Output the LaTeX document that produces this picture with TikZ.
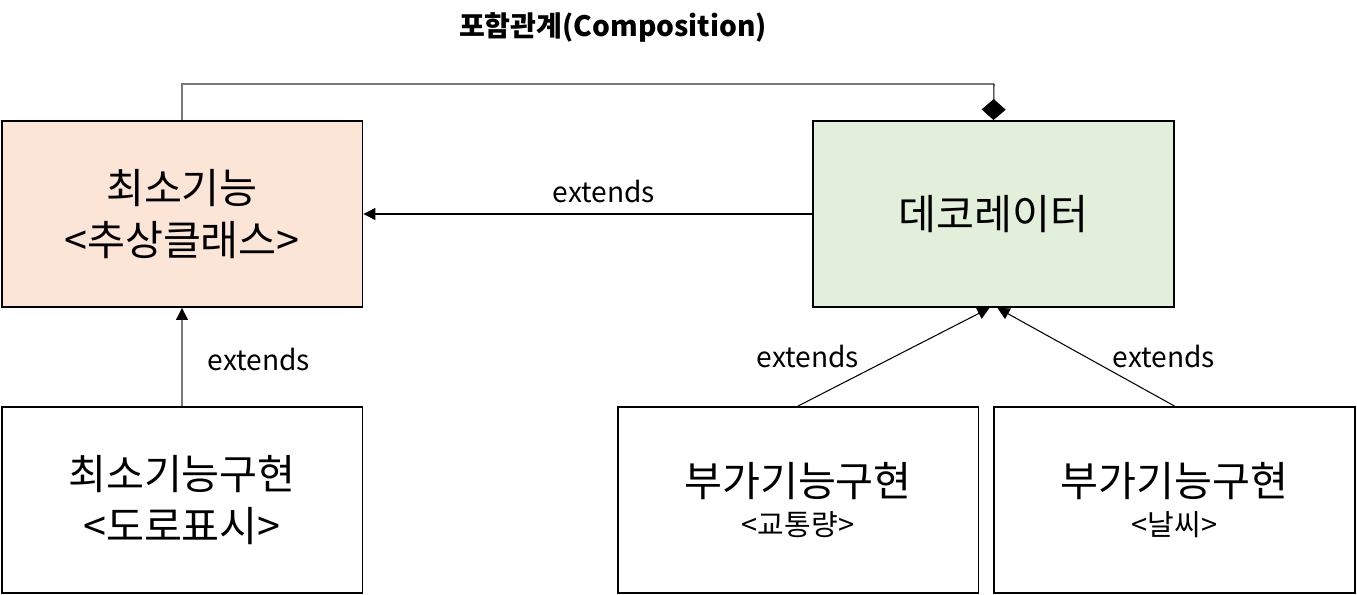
\documentclass[tikz,border=0pt]{standalone}
\usepackage{fontspec}
\setmainfont{Noto Sans CJK KR}
\usepackage{tikz}
\usetikzlibrary{positioning,calc}
\usetikzlibrary{arrows.meta}
\definecolor{PeachFill}{RGB}{251,229,214}
\definecolor{SageFill}{RGB}{226,239,218}
\definecolor{LinkGray}{RGB}{120,120,120}
\tikzset{
  box/.style={draw=black,line width=1.1pt,fill=white,minimum width=7.22cm,minimum height=3.72cm,
    align=center,inner sep=0pt,font=\fontsize{23.5}{29.5}\selectfont},
  link/.style={draw=black,line width=0.6pt},
  ext/.style={link,-{Triangle[length=0.24cm,width=0.24cm,color=black]}},
  lab/.style={font=\fontsize{16}{19}\selectfont,inner sep=0pt},
}
\newcommand{\subline}[1]{{\fontsize{16.5}{18}\selectfont #1}}

\begin{document}
\begin{tikzpicture}[x=0.02cm,y=-0.02cm]
\useasboundingbox (0,0) rectangle (1357,595);
\node[lab,font=\fontsize{16}{19}\selectfont\bfseries] (title) at (613,27) {포함관계(Composition)};
\node[box,fill=PeachFill] (base) at (182,214) {최소기능\\<추상클래스>};
\node[box,fill=SageFill] (deco) at (993.5,214) {데코레이터};
\node[box] (road) at (182,500) {최소기능구현\\<도로표시>};
\node[box] (traffic) at (798,500) {부가기능구현\\[-7pt]\subline{<교통량>}};
\node[box] (weather) at (1174.5,500) {부가기능구현\\[-7pt]\subline{<날씨>}};
% composition
\coordinate (bend) at (994,84);
\draw[link,draw=LinkGray] (base.north) |- (bend);
\draw[link,-{Diamond[length=0.42cm,width=0.48cm]}] (bend) -- (deco.north);
% extends
\draw[ext] (deco.west) -- (base.east);
\draw[ext,draw=LinkGray] (road.north) -- (base.south);
\draw[ext] (traffic.north) -- ($(deco.south)+(-4,0)$);
\draw[ext] (weather.north) -- ($(deco.south)+(4,0)$);
\node[lab] (e1) at (604,191) {extends};
\node[lab] (e2) at (259,359) {extends};
\node[lab] (e3) at (808,356) {extends};
\node[lab] (e4) at (1164,356) {extends};
\end{tikzpicture}
\end{document}
